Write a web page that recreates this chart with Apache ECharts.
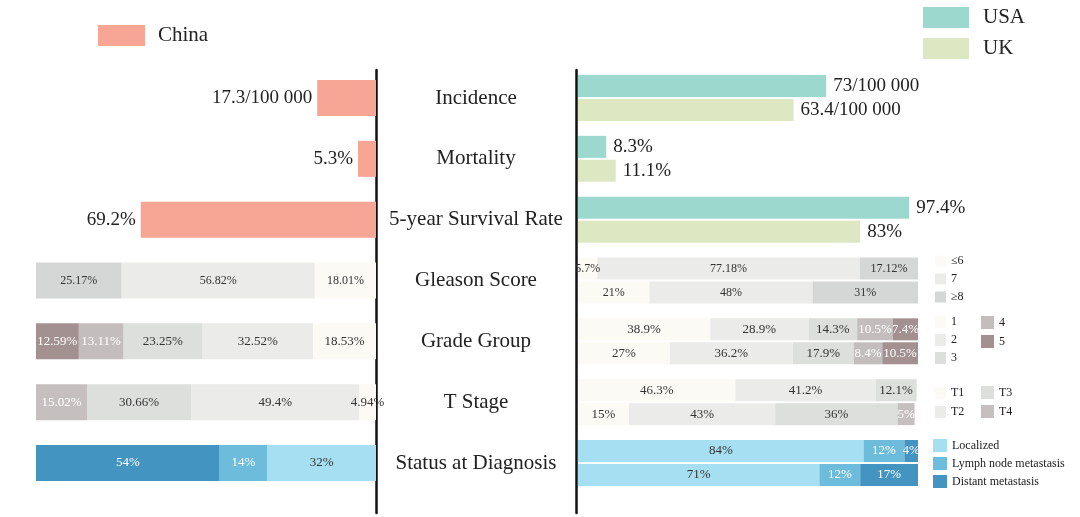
<!DOCTYPE html>
<html><head><meta charset="utf-8">
<script src="https://cdn.jsdelivr.net/npm/echarts@6/dist/echarts.min.js"></script>
<style>html,body{margin:0;padding:0;background:#fff}#c{width:1080px;height:517px}</style>
</head><body><div id="c"></div>
<script>
const categories = ['Incidence','Mortality','5-year Survival Rate','Gleason Score','Grade Group','T Stage','Status at Diagnosis'];

const chinaTop = [17.3, 5.3, 69.2];
const chinaTopLabels = ['17.3/100 000','5.3%','69.2%'];
const usaTop = [73, 8.3, 97.4];
const usaTopLabels = ['73/100 000','8.3%','97.4%'];
const ukTop = [63.4, 11.1, 83];
const ukTopLabels = ['63.4/100 000','11.1%','83%'];

const gleasonNames = ['≤6','7','≥8'];
const gleasonChina = [18.01, 56.82, 25.17];
const gleasonUSA = [5.7, 77.18, 17.12];
const gleasonUK = [21, 48, 31];

const gradeNames = ['1','2','3','4','5'];
const gradeChina = [18.53, 32.52, 23.25, 13.11, 12.59];
const gradeUSA = [38.9, 28.9, 14.3, 10.5, 7.4];
const gradeUK = [27, 36.2, 17.9, 8.4, 10.5];

const tNames = ['T1','T2','T3','T4'];
const tChina = [4.94, 49.4, 30.66, 15.02];
const tUSA = [46.3, 41.2, 12.1, null];
const tUK = [15, 43, 36, 5];

const statusNames = ['Localized','Lymph node metastasis','Distant metastasis'];
const statusChina = [32, 14, 54];
const statusUSA = [84, 12, 4];
const statusUK = [71, 12, 17];

const FONT = '"Liberation Serif", "Times New Roman", serif';
const TXT = '#222';
const colors = {
  'China':'#f7a595','USA':'#9dd8ce','UK':'#dde8c2',
  '≤6':'#fbfaf5','7':'#ebebe9','≥8':'#d5d6d6',
  '1':'#fbfaf5','2':'#ebebe9','3':'#dcdfdc','4':'#c4bdbd','5':'#a39091',
  'T1':'#fbfaf5','T2':'#ebebe9','T3':'#dcdfdc','T4':'#c5bfbf',
  'Localized':'#a6dff1','Lymph node metastasis':'#6dbcdc','Distant metastasis':'#4394c0'
};
const whiteText = new Set(['4','5','T4','Lymph node metastasis','Distant metastasis']);

function rowData(row, v) {
  const d = categories.map(() => '-');
  if (v !== null && v !== undefined) d[row] = v;
  return d;
}
function topData(vals) {
  return categories.map((c, i) => i < vals.length ? vals[i] : '-');
}

const series = [];
// Top three rows
series.push({
  name:'China', type:'bar', xAxisIndex:0, yAxisIndex:0, stack:'L', barWidth:36,
  data: topData(chinaTop), itemStyle:{color:colors['China']},
  label:{show:true, position:'left', distance:5, fontFamily:FONT, fontSize:19, color:TXT,
    formatter: p => chinaTopLabels[p.dataIndex]}
});
series.push({
  name:'USA', type:'bar', xAxisIndex:1, yAxisIndex:1, stack:'U', barWidth:22, barGap:'9%',
  data: topData(usaTop), itemStyle:{color:colors['USA']},
  label:{show:true, position:'right', distance:7, fontFamily:FONT, fontSize:19, color:TXT,
    formatter: p => usaTopLabels[p.dataIndex]}
});
series.push({
  name:'UK', type:'bar', xAxisIndex:1, yAxisIndex:1, stack:'K', barWidth:22, barGap:'9%',
  data: topData(ukTop), itemStyle:{color:colors['UK']},
  label:{show:true, position:'right', distance:7, fontFamily:FONT, fontSize:19, color:TXT,
    formatter: p => ukTopLabels[p.dataIndex]}
});

function addGroup(row, names, china, usa, uk, fs) {
  names.forEach((n, i) => {
    const lab = {show:true, position:'inside', fontFamily:FONT, fontSize:fs,
      color: whiteText.has(n) ? '#ffffff' : '#333', formatter: p => p.value + '%'};
    series.push({name:n, type:'bar', xAxisIndex:0, yAxisIndex:0, stack:'L', barWidth:36,
      data: rowData(row, china[i]), itemStyle:{color:colors[n]}, label:lab});
    series.push({name:n, type:'bar', xAxisIndex:1, yAxisIndex:1, stack:'U', barWidth:22, barGap:'9%',
      data: rowData(row, usa[i]), itemStyle:{color:colors[n]}, label:lab});
    series.push({name:n, type:'bar', xAxisIndex:1, yAxisIndex:1, stack:'K', barWidth:22, barGap:'9%',
      data: rowData(row, uk[i]), itemStyle:{color:colors[n]}, label:lab});
  });
}
addGroup(3, gleasonNames, gleasonChina, gleasonUSA, gleasonUK, 12);
addGroup(4, gradeNames, gradeChina, gradeUSA, gradeUK, 13);
addGroup(5, tNames, tChina, tUSA, tUK, 13);
addGroup(6, statusNames, statusChina, statusUSA, statusUK, 13);

const smallLegend = (data, left, top, w, h, gap) => ({
  data, left, top, orient:'vertical', itemWidth:w, itemHeight:h, itemGap:gap, icon:'rect',
  selectedMode:false, padding:0,
  textStyle:{fontFamily:FONT, fontSize:12, color:TXT}
});

const option = {
  animation:false,
  backgroundColor:'#fff',
  grid:[
    {left:36, width:340, top:67.6, height:425.8},
    {left:578, width:340, top:67.6, height:425.8},
    {left:376.7, width:1, top:70, height:443},
    {left:576.3, width:1, top:70, height:443}
  ],
  xAxis:[
    {gridIndex:0, type:'value', min:0, max:100, inverse:true, show:false},
    {gridIndex:1, type:'value', min:0, max:100, show:false},
    {gridIndex:2, type:'value', show:false},
    {gridIndex:3, type:'value', show:false}
  ],
  yAxis:[
    {gridIndex:0, type:'category', data:categories, inverse:true, position:'right',
      axisLine:{show:false}, axisTick:{show:false},
      axisLabel:{interval:0, margin:100, align:'center', fontFamily:FONT, fontSize:21, color:TXT}},
    {gridIndex:1, type:'category', data:categories, inverse:true, show:false},
    {gridIndex:2, type:'value', min:0, max:1, axisLine:{show:true, lineStyle:{color:'#111', width:2.5}},
      axisLabel:{show:false}, axisTick:{show:false}, splitLine:{show:false}},
    {gridIndex:3, type:'value', min:0, max:1, axisLine:{show:true, lineStyle:{color:'#111', width:2.5}},
      axisLabel:{show:false}, axisTick:{show:false}, splitLine:{show:false}}
  ],
  legend:[
    {data:['China'], left:98, top:25, itemWidth:47, itemHeight:21, icon:'rect', selectedMode:false, padding:0,
      textStyle:{fontFamily:FONT, fontSize:21, color:TXT, padding:[0,0,0,8]}},
    {data:['USA','UK'], left:923, top:7, orient:'vertical', itemWidth:46, itemHeight:21, itemGap:10, icon:'rect',
      selectedMode:false, padding:0,
      textStyle:{fontFamily:FONT, fontSize:21, color:TXT, padding:[0,0,0,9]}},
    smallLegend(gleasonNames, 935, 255, 11, 11, 6),
    smallLegend(['1','2','3'], 935, 316, 11, 12, 6),
    smallLegend(['4','5'], 981, 316, 13, 13, 6),
    smallLegend(['T1','T2'], 935, 387, 11, 12, 7),
    smallLegend(['T3','T4'], 981, 386, 13, 13, 6),
    smallLegend(statusNames, 933, 439, 14, 13, 5)
  ],
  series
};
const chart = echarts.init(document.getElementById('c'));
chart.setOption(option);
</script></body></html>
